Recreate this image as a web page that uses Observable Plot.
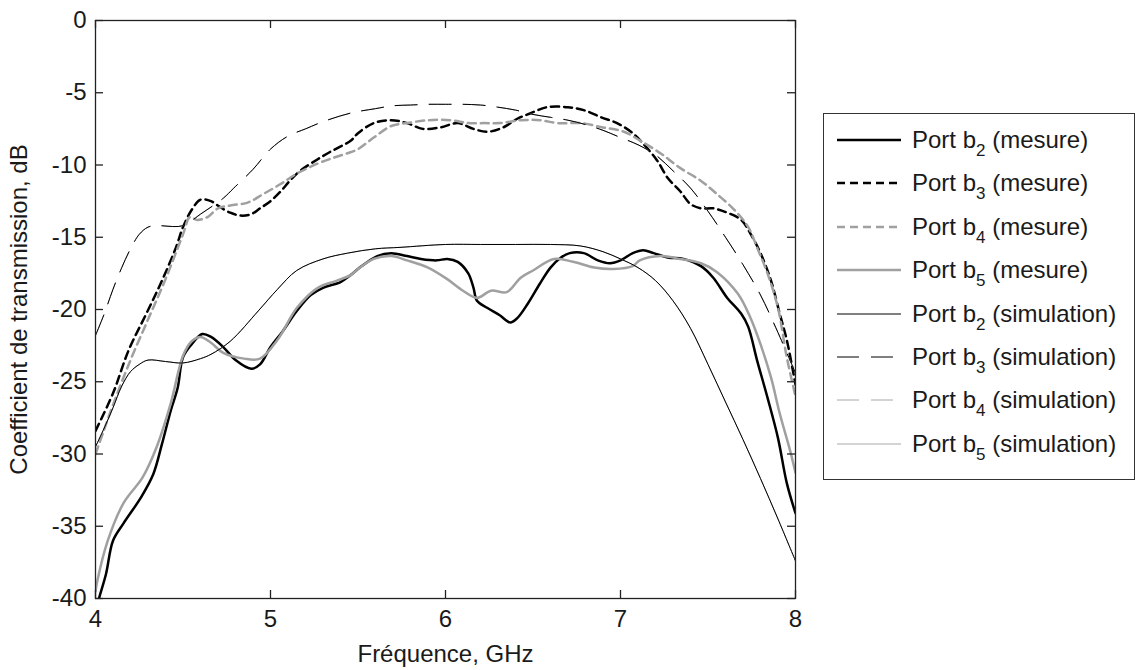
<!DOCTYPE html>
<html><head><meta charset="utf-8">
<script src="https://cdn.jsdelivr.net/npm/d3@7"></script>
<script src="https://cdn.jsdelivr.net/npm/@observablehq/plot@0.6"></script>
<style>
body{margin:0;background:#fff;font-family:"Liberation Sans",Arial,sans-serif;}
#wrap{position:relative;width:1143px;height:670px;overflow:hidden}
#legend{position:absolute;left:823px;top:113px;width:312px;height:367px;border:1px solid #333;box-sizing:border-box;background:#fff;}
.row{position:absolute;left:0;height:30px;display:flex;align-items:center;font-size:24px;color:#1a1a1a;white-space:nowrap}
.row svg{margin-left:13px;margin-right:11px}
sub{font-size:17px;vertical-align:-8px;line-height:0}
</style></head>
<body><div id="wrap"></div>
<script>
// ---- data ----
const xTicks = [4, 5, 6, 7, 8];
const yTicks = [-40, -35, -30, -25, -20, -15, -10, -5, 0];

const fB2Mes = [4.00,4.02,4.06,4.10,4.16,4.26,4.33,4.38,4.43,4.47,4.50,4.55,4.61,4.66,4.73,4.80,4.89,4.94,5.00,5.07,5.15,5.23,5.30,5.40,5.46,5.51,5.61,5.69,5.78,5.86,5.95,6.01,6.07,6.13,6.16,6.18,6.24,6.31,6.37,6.41,6.47,6.54,6.60,6.66,6.71,6.79,6.87,6.94,7.00,7.07,7.13,7.19,7.27,7.36,7.46,7.53,7.61,7.69,7.73,7.78,7.84,7.90,7.95,8.00];
const dbB2Mes = [-41,-40,-38.3,-36,-34.8,-33,-31.4,-29.3,-27,-25.4,-23.3,-22.4,-21.7,-21.9,-22.6,-23.5,-24.1,-23.8,-22.6,-21.5,-20.1,-19,-18.5,-18.1,-17.6,-17.1,-16.3,-16.1,-16.3,-16.5,-16.6,-16.5,-16.7,-17.5,-18.5,-19.4,-19.9,-20.4,-20.9,-20.6,-19.6,-18.2,-17.1,-16.4,-16.1,-16.1,-16.6,-16.8,-16.6,-16.1,-15.9,-16.1,-16.4,-16.5,-17,-17.8,-19.2,-20.3,-21.2,-23.5,-26.1,-28.9,-32,-34.1];

const fB3Mes = [4.00,4.10,4.19,4.29,4.38,4.46,4.50,4.55,4.60,4.66,4.71,4.77,4.83,4.89,4.94,5.00,5.06,5.11,5.17,5.27,5.34,5.46,5.50,5.59,5.69,5.78,5.87,5.97,6.07,6.16,6.24,6.33,6.41,6.49,6.58,6.70,6.79,6.89,6.98,7.07,7.15,7.21,7.27,7.34,7.40,7.46,7.53,7.61,7.69,7.74,7.80,7.86,7.91,7.95,8.00];
const dbB3Mes = [-28.4,-25.8,-22.8,-20.3,-18.0,-15.7,-14.3,-13.1,-12.4,-12.5,-12.9,-13.3,-13.5,-13.4,-13.0,-12.5,-11.8,-11.1,-10.4,-9.6,-9.1,-8.3,-7.8,-7.1,-6.9,-7.1,-7.5,-7.4,-7.1,-7.5,-7.7,-7.4,-6.8,-6.4,-6.0,-6.0,-6.2,-6.7,-7.1,-7.8,-8.8,-9.7,-10.9,-11.8,-12.7,-13.0,-13.0,-13.3,-13.8,-14.7,-16.1,-18.0,-20.3,-22.1,-25.2];

const fB4Mes = [4.00,4.05,4.10,4.20,4.30,4.40,4.50,4.54,4.58,4.64,4.70,4.77,4.87,4.96,5.06,5.15,5.27,5.36,5.46,5.50,5.59,5.69,5.78,5.90,6.03,6.13,6.22,6.31,6.43,6.54,6.64,6.77,6.90,7.02,7.11,7.23,7.34,7.46,7.55,7.65,7.73,7.78,7.84,7.90,7.95,8.00];
const dbB4Mes = [-30.0,-28.3,-26.6,-23.5,-20.7,-17.9,-14.8,-13.6,-13.8,-13.6,-13.0,-12.8,-12.6,-12.0,-11.3,-10.6,-9.9,-9.5,-9.1,-8.9,-8.1,-7.3,-7.1,-6.9,-6.9,-7.1,-7.1,-7.1,-6.9,-6.9,-7.1,-7.1,-7.4,-7.7,-8.3,-9.2,-10.2,-11.1,-12.0,-13.1,-14.3,-15.7,-17.5,-19.9,-23.3,-26.0];

const fB5Mes = [4.00,4.01,4.07,4.16,4.27,4.35,4.43,4.50,4.55,4.60,4.66,4.73,4.85,4.94,5.04,5.15,5.27,5.38,5.46,5.50,5.59,5.69,5.78,5.90,6.01,6.10,6.18,6.26,6.35,6.43,6.50,6.62,6.73,6.85,6.96,7.07,7.11,7.23,7.34,7.46,7.55,7.67,7.74,7.80,7.86,7.91,7.97,8.00];
const dbB5Mes = [-39.5,-38.8,-36,-33.4,-31.6,-29.5,-26.5,-23.2,-22.2,-21.9,-22.3,-23,-23.4,-23.4,-22.1,-19.9,-18.5,-18,-17.6,-17.2,-16.5,-16.3,-16.6,-17.1,-17.9,-18.7,-19.2,-18.7,-18.8,-17.8,-17.3,-16.5,-16.7,-17.1,-17.2,-17,-16.6,-16.3,-16.5,-16.8,-17.4,-18.9,-20.5,-22.4,-24.7,-27.2,-29.8,-31.3];

const fB2Sim = [4.00,4.05,4.10,4.15,4.20,4.25,4.30,4.40,4.50,4.60,4.66,4.77,4.93,5.04,5.15,5.30,5.44,5.60,5.74,6.00,6.20,6.40,6.60,6.77,6.90,7.00,7.10,7.20,7.30,7.40,7.50,7.60,7.70,7.80,7.90,8.00];
const dbB2Sim = [-29.5,-28.2,-26.8,-25.3,-24.3,-23.8,-23.5,-23.6,-23.7,-23.4,-23.1,-22.2,-20.1,-18.6,-17.3,-16.5,-16.1,-15.8,-15.7,-15.5,-15.5,-15.5,-15.5,-15.6,-16.0,-16.5,-17.1,-18.0,-19.4,-21.3,-23.8,-26.4,-29.0,-31.7,-34.5,-37.4];
const fB5Sim = fB2Sim;
const dbB5Sim = [-29.5,-28.2,-26.8,-25.3,-24.3,-23.8,-23.5,-23.6,-23.7,-23.4,-23.1,-22.2,-20.1,-18.6,-17.3,-16.5,-16.1,-15.8,-15.7,-15.5,-15.5,-15.5,-15.5,-15.6,-16.0,-16.5,-17.1,-18.0,-19.4,-21.3,-23.8,-26.4,-29.0,-31.7,-34.5,-37.4];

const fB3Sim = [4.00,4.05,4.10,4.15,4.20,4.25,4.30,4.35,4.50,4.60,4.73,4.79,4.90,5.00,5.10,5.20,5.30,5.46,5.60,5.70,5.80,5.90,6.00,6.10,6.20,6.30,6.40,6.50,6.60,6.70,6.80,6.90,7.00,7.10,7.20,7.30,7.40,7.50,7.60,7.70,7.80,7.90,8.00];
const dbB3Sim = [-21.8,-20.3,-18.6,-17.1,-15.8,-14.8,-14.3,-14.2,-14.2,-13.4,-12.3,-11.6,-10.3,-8.9,-8.0,-7.5,-7.0,-6.4,-6.1,-5.9,-5.85,-5.8,-5.8,-5.8,-5.85,-6.0,-6.2,-6.5,-6.7,-6.9,-7.2,-7.6,-8.1,-8.6,-9.3,-10.4,-11.6,-13.2,-15.0,-16.9,-19.0,-21.6,-24.4];
const fB4Sim = fB3Sim;
const dbB4Sim = [-21.8,-20.3,-18.6,-17.1,-15.8,-14.8,-14.3,-14.2,-14.2,-13.4,-12.3,-11.6,-10.3,-8.9,-8.0,-7.5,-7.0,-6.4,-6.1,-5.9,-5.85,-5.8,-5.8,-5.8,-5.85,-6.0,-6.2,-6.5,-6.7,-6.9,-7.2,-7.6,-8.1,-8.6,-9.3,-10.4,-11.6,-13.2,-15.0,-16.9,-19.0,-21.6,-24.4];

const seriesPort = ["2", "3", "4", "5", "2", "3", "4", "5"];
const seriesKind = ["mesure", "mesure", "mesure", "mesure", "simulation", "simulation", "simulation", "simulation"];
const xLabel = "Fréquence, GHz";
const yLabel = "Coefficient de transmission, dB";

// ---- styles ----
const BLACK = "#000", GRAY = "#a0a0a0", GRAYSIM = "#a8a8a8";
const styles = [
  {stroke: BLACK, w: 2.5, dash: null},
  {stroke: BLACK, w: 2.5, dash: "8,5"},
  {stroke: GRAY, w: 2.5, dash: "8,5"},
  {stroke: GRAY, w: 2.5, dash: null},
  {stroke: BLACK, w: 1, dash: null},
  {stroke: BLACK, w: 1, dash: "22,12"},
  {stroke: GRAYSIM, w: 1, dash: "22,12"},
  {stroke: GRAYSIM, w: 1, dash: null}
];
const freqs = [fB2Mes, fB3Mes, fB4Mes, fB5Mes, fB2Sim, fB3Sim, fB4Sim, fB5Sim];
const dbs = [dbB2Mes, dbB3Mes, dbB4Mes, dbB5Mes, dbB2Sim, dbB3Sim, dbB4Sim, dbB5Sim];
const drawOrder = [0, 1, 2, 3, 7, 6, 5, 4];

const W = 810, H = 670, ML = 95, MR = 15, MT = 20, MB = 72;
const innerW = W - ML - MR, innerH = H - MT - MB, TICK = 8;

const lineMarks = drawOrder.map(i => {
  const rows = freqs[i].map((x, j) => ({x, y: dbs[i][j]}));
  const s = styles[i];
  return Plot.line(rows, {x: "x", y: "y", stroke: s.stroke, strokeWidth: s.w,
    strokeDasharray: s.dash, curve: "catmull-rom", clip: true, strokeLinejoin: "round"});
});

const fmt = d => String(d);
const chart = Plot.plot({
  width: W, height: H, marginLeft: ML, marginRight: MR, marginTop: MT, marginBottom: MB,
  style: {fontFamily: "'Liberation Sans', Arial, sans-serif", fontSize: "24px", color: "#1a1a1a", background: "#fff"},
  x: {domain: [4, 8]},
  y: {domain: [-40, 0]},
  marks: [
    ...lineMarks,
    Plot.frame({stroke: "#222", strokeWidth: 1.3}),
    Plot.tickX(xTicks, {x: d => d, insetTop: innerH - TICK, stroke: "#222", strokeWidth: 1.3}),
    Plot.tickX(xTicks, {x: d => d, insetBottom: innerH - TICK, stroke: "#222", strokeWidth: 1.3}),
    Plot.tickY(yTicks, {y: d => d, insetRight: innerW - TICK, stroke: "#222", strokeWidth: 1.3}),
    Plot.tickY(yTicks, {y: d => d, insetLeft: innerW - TICK, stroke: "#222", strokeWidth: 1.3}),
    Plot.axisX({ticks: xTicks, tickFormat: fmt, tickSize: 0, tickPadding: 11, label: xLabel, labelAnchor: "center", labelOffset: 63, labelArrow: "none"}),
    Plot.axisY({ticks: yTicks, tickFormat: fmt, tickSize: 0, tickPadding: 9, label: yLabel, labelAnchor: "center", labelOffset: 86, labelArrow: "none"})
  ]
});
const wrap = document.getElementById("wrap");
chart.style.position = "absolute"; chart.style.left = "0"; chart.style.top = "0";
wrap.appendChild(chart);

// ---- legend ----
const legend = document.createElement("div");
legend.id = "legend";
seriesPort.forEach((p, i) => {
  const s = styles[i];
  const row = document.createElement("div");
  row.className = "row";
  row.style.top = (11 + i * 43.4) + "px";
  row.innerHTML = `<svg width="64" height="30"><line x1="0" x2="64" y1="15" y2="15" stroke="${s.stroke}" stroke-width="${s.w}" ${s.dash ? `stroke-dasharray="${s.dash}"` : ""}/></svg><span>Port b<sub>${p}</sub> (${seriesKind[i]})</span>`;
  legend.appendChild(row);
});
wrap.appendChild(legend);
</script>
</body></html>
